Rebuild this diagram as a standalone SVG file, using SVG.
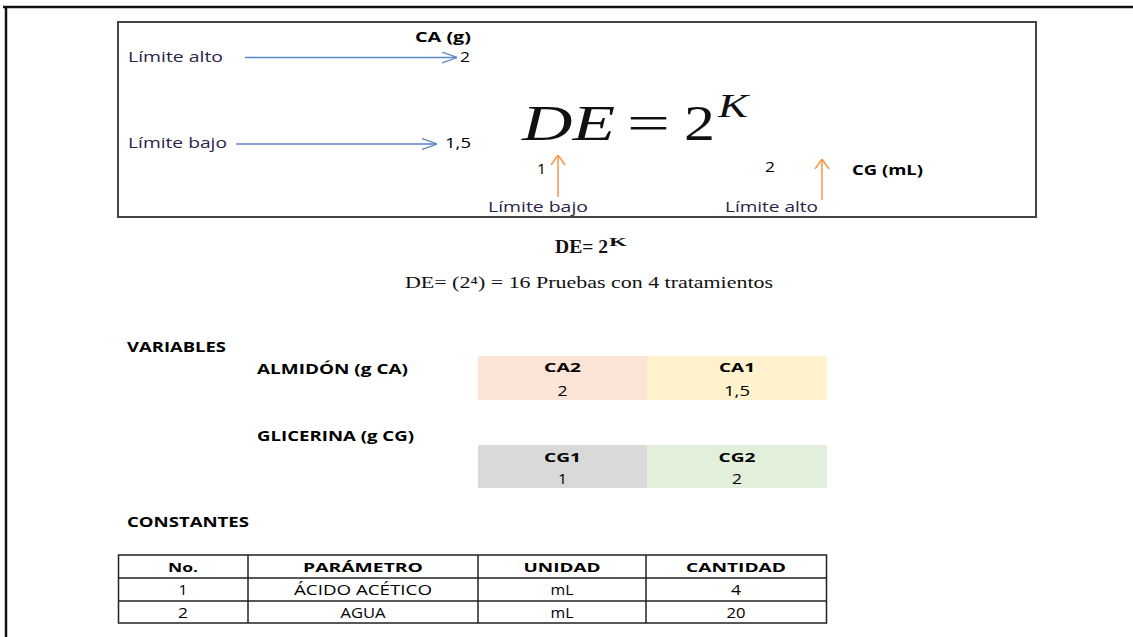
<svg xmlns="http://www.w3.org/2000/svg" width="1133" height="637" viewBox="0 0 1133 637">
<style>
.s{font-family:"Open Sans","DejaVu Sans",sans-serif;font-size:14px;fill:#000}
.b{font-weight:bold}
.lim{fill:#2a2346}
.c{font-family:"Open Sans","DejaVu Sans",sans-serif;font-size:13px;fill:#000;text-anchor:middle}
.n{font-size:14px}
.tr{font-family:"Liberation Serif","Times New Roman",serif;fill:#111}
.blue{stroke:#5b87c5;stroke-width:1.3;fill:none}
.orange{stroke:#f79646;stroke-width:1.5;fill:none}
.grid{stroke:#222;stroke-width:1.5;fill:none}
</style>
<defs>
<marker id="ab" viewBox="0 0 15 12" refX="15" refY="6" markerWidth="15" markerHeight="12" markerUnits="userSpaceOnUse" orient="auto">
<path d="M0,0.5 L15,6 L0,11.5" fill="none" stroke="#5b87c5" stroke-width="1.3"/>
</marker>
<marker id="ao" viewBox="0 0 10 16" refX="10" refY="8" markerWidth="10" markerHeight="16" markerUnits="userSpaceOnUse" orient="auto">
<path d="M0,1 L10,8 L0,15" fill="none" stroke="#f79646" stroke-width="1.5"/>
</marker>
</defs>
<rect width="1133" height="637" fill="#fff"/>
<g id="frame">
<line x1="3" y1="7" x2="1133" y2="7" stroke="#111" stroke-width="2.5"/>
<line x1="6" y1="6" x2="6" y2="637" stroke="#111" stroke-width="2.5"/>
</g>
<g id="equation-box">
<rect x="118" y="22" width="918" height="195" fill="#fff" stroke="#444" stroke-width="2"/>
<text class="s b" x="415" y="42" textLength="56" lengthAdjust="spacingAndGlyphs">CA (g)</text>
<text class="s lim" x="128" y="62" textLength="95" lengthAdjust="spacingAndGlyphs">Límite alto</text>
<text class="s" x="460" y="62" textLength="10" lengthAdjust="spacingAndGlyphs">2</text>
<text class="s lim" x="128" y="148" textLength="99" lengthAdjust="spacingAndGlyphs">Límite bajo</text>
<text class="s" x="445" y="148" textLength="26" lengthAdjust="spacingAndGlyphs">1,5</text>
<text class="tr" x="522" y="140" font-size="50" font-style="italic" textLength="93" lengthAdjust="spacingAndGlyphs">DE</text>
<text class="tr" x="627" y="140" font-size="50" textLength="43" lengthAdjust="spacingAndGlyphs">=</text>
<text class="tr" x="684" y="140" font-size="50" textLength="31" lengthAdjust="spacingAndGlyphs">2</text>
<text class="tr" x="718" y="117" font-size="33" font-style="italic" textLength="30" lengthAdjust="spacingAndGlyphs">K</text>
<text class="s" x="537" y="174" textLength="9" lengthAdjust="spacingAndGlyphs">1</text>
<text class="s lim" x="488" y="212" textLength="100" lengthAdjust="spacingAndGlyphs">Límite bajo</text>
<text class="s" x="765" y="172" textLength="10" lengthAdjust="spacingAndGlyphs">2</text>
<text class="s b" x="852" y="175" textLength="71" lengthAdjust="spacingAndGlyphs">CG (mL)</text>
<text class="s lim" x="725" y="212" textLength="93" lengthAdjust="spacingAndGlyphs">Límite alto</text>
</g>
<g id="connectors">
<line class="blue" x1="245" y1="57.5" x2="457" y2="57.5" marker-end="url(#ab)"/>
<line class="blue" x1="236" y1="144" x2="437" y2="144" marker-end="url(#ab)"/>
<line class="orange" x1="558" y1="197" x2="558" y2="155" marker-end="url(#ao)"/>
<line class="orange" x1="822" y1="200" x2="822" y2="159" marker-end="url(#ao)"/>
</g>
<g id="formula">
<text class="tr" x="555" y="253" font-size="18" font-weight="bold" textLength="53" lengthAdjust="spacingAndGlyphs">DE= 2</text>
<text class="tr" x="609" y="246" font-size="12" font-weight="bold" textLength="18" lengthAdjust="spacingAndGlyphs">K</text>
<text class="tr" x="405" y="288" font-size="16" textLength="368" lengthAdjust="spacingAndGlyphs">DE= (2⁴) = 16 Pruebas  con  4 tratamientos</text>
</g>
<g id="variables">
<text class="s b" x="127" y="352" textLength="99" lengthAdjust="spacingAndGlyphs">VARIABLES</text>
<text class="s b" x="257" y="374" textLength="151" lengthAdjust="spacingAndGlyphs">ALMIDÓN  (g CA)</text>
<text class="s b" x="257" y="441" textLength="157" lengthAdjust="spacingAndGlyphs">GLICERINA  (g CG)</text>
</g>
<g id="ca-table">
<rect x="478" y="356" width="169" height="44" fill="#fce4d6"/>
<rect x="647" y="356" width="180" height="44" fill="#fff2cc"/>
<text class="c b" x="562.5" y="372" textLength="37" lengthAdjust="spacingAndGlyphs">CA2</text>
<text class="c b" x="737" y="372" textLength="36" lengthAdjust="spacingAndGlyphs">CA1</text>
<text class="c n" x="562.5" y="396" textLength="10" lengthAdjust="spacingAndGlyphs">2</text>
<text class="c n" x="737" y="396" textLength="26" lengthAdjust="spacingAndGlyphs">1,5</text>
</g>
<g id="cg-table">
<rect x="478" y="445" width="169" height="43" fill="#d9d9d9"/>
<rect x="647" y="445" width="180" height="43" fill="#e2efda"/>
<text class="c b" x="562.5" y="462" textLength="37" lengthAdjust="spacingAndGlyphs">CG1</text>
<text class="c b" x="737" y="462" textLength="37" lengthAdjust="spacingAndGlyphs">CG2</text>
<text class="c n" x="562.5" y="484" textLength="9" lengthAdjust="spacingAndGlyphs">1</text>
<text class="c n" x="737" y="484" textLength="10" lengthAdjust="spacingAndGlyphs">2</text>
</g>
<g id="constantes">
<text class="s b" x="127" y="527" textLength="122" lengthAdjust="spacingAndGlyphs">CONSTANTES</text>
</g>
<g id="const-table">
<rect class="grid" x="118.5" y="555" width="708" height="68" stroke-width="2"/>
<line class="grid" x1="118" y1="578" x2="827" y2="578"/>
<line class="grid" x1="118" y1="601" x2="827" y2="601"/>
<line class="grid" x1="248" y1="555" x2="248" y2="623"/>
<line class="grid" x1="478" y1="555" x2="478" y2="623"/>
<line class="grid" x1="646" y1="555" x2="646" y2="623"/>
<text class="c b" x="183" y="572" textLength="30" lengthAdjust="spacingAndGlyphs">No.</text>
<text class="c b" x="363" y="572" textLength="120" lengthAdjust="spacingAndGlyphs">PARÁMETRO</text>
<text class="c b" x="562" y="572" textLength="77" lengthAdjust="spacingAndGlyphs">UNIDAD</text>
<text class="c b" x="736" y="572" textLength="100" lengthAdjust="spacingAndGlyphs">CANTIDAD</text>
<text class="c n" x="183" y="595" textLength="9" lengthAdjust="spacingAndGlyphs">1</text>
<text class="c n" x="363" y="595" textLength="138" lengthAdjust="spacingAndGlyphs">ÁCIDO ACÉTICO</text>
<text class="c n" x="562" y="595" textLength="23" lengthAdjust="spacingAndGlyphs">mL</text>
<text class="c n" x="736" y="595" textLength="10" lengthAdjust="spacingAndGlyphs">4</text>
<text class="c n" x="183" y="618" textLength="10" lengthAdjust="spacingAndGlyphs">2</text>
<text class="c n" x="363" y="618" textLength="45" lengthAdjust="spacingAndGlyphs">AGUA</text>
<text class="c n" x="562" y="618" textLength="23" lengthAdjust="spacingAndGlyphs">mL</text>
<text class="c n" x="736" y="618" textLength="19" lengthAdjust="spacingAndGlyphs">20</text>
</g>
</svg>
